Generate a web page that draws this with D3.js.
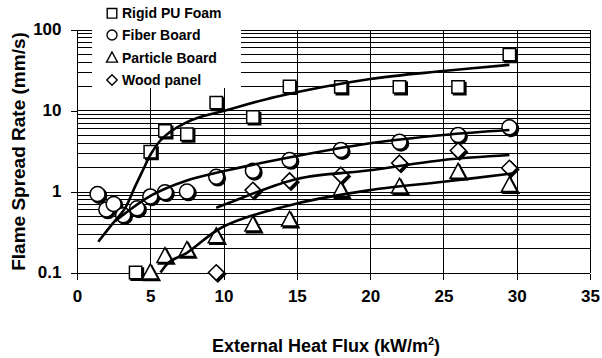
<!DOCTYPE html>
<html>
<head>
<meta charset="utf-8">
<script src="https://cdn.jsdelivr.net/npm/d3@7"></script>
<style>
  html, body { margin: 0; padding: 0; background: #fff; }
  text { font-family: "Liberation Sans", Arial, Helvetica, sans-serif; font-weight: bold; fill: #000; }
</style>
</head>
<body>
<svg id="chart" width="602" height="358"></svg>
<script>
// ---- data: [heat flux kW/m2, flame spread rate mm/s] ----
const seriesNames = ["Rigid PU Foam", "Fiber Board", "Particle Board", "Wood panel"];

const puFoamPoints = [[4, 0.1], [5, 3.1], [6, 5.6], [7.5, 5.1], [9.5, 12.5], [12, 8.3],
  [14.5, 19.8], [18, 19.6], [22, 19.6], [26, 19.5], [29.5, 49]];
const fiberBoardPoints = [[1.4, 0.93], [2, 0.6], [2.5, 0.7], [3.15, 0.51], [4.1, 0.62], [5, 0.87],
  [6, 0.98], [7.5, 1.0], [9.5, 1.52], [12, 1.8], [14.5, 2.45], [18, 3.25], [22, 4.1], [26, 4.98], [29.5, 6.2]];
const particleBoardPoints = [[5, 0.1], [6, 0.16], [7.5, 0.19], [9.5, 0.28], [12, 0.39], [14.5, 0.45],
  [18, 1.04], [22, 1.15], [26, 1.75], [29.5, 1.2]];
const woodPanelPoints = [[9.5, 0.1], [12, 1.04], [14.5, 1.36], [18, 1.6], [22, 2.25], [26, 3.2], [29.5, 1.95]];

// fitted trend curves
const puFoamTrend = [[1.45, 0.24], [2.37, 0.39], [3.27, 0.62], [3.96, 1.15], [4.5, 1.84], [5, 2.82],
  [5.66, 4.2], [6.34, 5.43], [7.37, 7.0], [8.4, 8.3], [10, 9.86], [13.6, 14.8], [20, 24.5], [25, 30.7], [29.5, 36.6]];
const fiberBoardTrend = [[2.6, 0.43], [5.1, 0.9], [7.4, 1.35], [9.8, 1.75], [13.85, 2.5], [20, 3.94],
  [25, 4.99], [29.5, 5.74]];
const particleBoardTrend = [[5.7, 0.1], [6.3, 0.135], [7.5, 0.175], [10, 0.37], [15, 0.71], [20, 1.04],
  [25, 1.32], [29.8, 1.68]];
const woodPanelTrend = [[9.5, 0.63], [10.44, 0.73], [15, 1.43], [20, 1.83], [25, 2.45], [29.5, 2.82]];

const xTicks = [0, 5, 10, 15, 20, 25, 30, 35];
const yTicks = [0.1, 1, 10, 100];
const yTickLabels = ["0.1", "1", "10", "100"];

// ---- layout ----
const svg = d3.select("#chart");
const x = d3.scaleLinear().domain([0, 35]).range([77, 590]);
const y = d3.scaleLog().domain([0.1, 100]).range([272.5, 29.5]);

// gridlines
const grid = svg.append("g").attr("shape-rendering", "crispEdges").attr("stroke", "#000").attr("stroke-width", 1);
const minorY = [];
[0.1, 1, 10].forEach(d => { for (let k = 1; k <= 10; k++) minorY.push(d * k); });
grid.selectAll("line.h").data(Array.from(new Set(minorY.map(v => +v.toPrecision(3))))).join("line")
  .attr("class", "h")
  .attr("x1", x(0)).attr("x2", x(35))
  .attr("y1", d => Math.round(y(d)) + 0.5).attr("y2", d => Math.round(y(d)) + 0.5);
grid.selectAll("line.v").data(xTicks.slice(1)).join("line")
  .attr("class", "v")
  .attr("y1", y(100)).attr("y2", y(0.1))
  .attr("x1", d => Math.round(x(d)) + 0.5).attr("x2", d => Math.round(x(d)) + 0.5);

// axes
const xAxis = d3.axisBottom(x).tickValues(xTicks).tickSize(6).tickPadding(10).tickFormat(d3.format("d"));
const yAxis = d3.axisLeft(y).tickValues(yTicks).tickSize(7).tickPadding(9)
  .tickFormat((d, i) => yTickLabels[i]);
const gx = svg.append("g").attr("transform", `translate(0,${Math.round(y(0.1)) + 0.5})`).call(xAxis);
const gy = svg.append("g").attr("transform", `translate(${Math.round(x(0)) + 0.5},0)`).call(yAxis);
[gx, gy].forEach(g => {
  g.select(".domain").attr("stroke", "#000").attr("shape-rendering", "crispEdges");
  g.selectAll(".tick line").attr("stroke", "#000").attr("shape-rendering", "crispEdges");
  g.selectAll(".tick text").attr("font-size", 17).attr("font-family", null).attr("fill", "#000");
});
gx.select(".domain").attr("d", `M${x(0)},0H${x(35)}`);
gy.select(".domain").attr("d", `M0,${y(0.1)}V${y(100)}`);

// legend box (white, drawn over the grid)
svg.append("rect").attr("x", 92).attr("y", 0).attr("width", 149).attr("height", 88).attr("fill", "#fff");

// ---- markers ----
function markerPath(shape, s) {
  switch (shape) {
    case "square": return `M${-s},${-s}H${s}V${s}H${-s}Z`;
    case "circle": return `M${s},0A${s},${s} 0 1,1 ${-s},0A${s},${s} 0 1,1 ${s},0Z`;
    case "triangle": return `M0,${-s * 1.1}L${s * 1.05},${s * 0.85}H${-s * 1.05}Z`;
    case "diamond": return `M0,${-s}L${s},0L0,${s}L${-s},0Z`;
  }
}
const series = [
  { name: seriesNames[0], shape: "square", size: 6.2, pts: puFoamPoints, trend: puFoamTrend },
  { name: seriesNames[1], shape: "circle", size: 7.5, pts: fiberBoardPoints, trend: fiberBoardTrend },
  { name: seriesNames[2], shape: "triangle", size: 7.6, pts: particleBoardPoints, trend: particleBoardTrend },
  { name: seriesNames[3], shape: "diamond", size: 7.8, pts: woodPanelPoints, trend: woodPanelTrend }
];

const marks = svg.append("g");
series.forEach(s => {
  const g = marks.append("g");
  // drop shadow
  g.selectAll("path.shadow").data(s.pts).join("path")
    .attr("class", "shadow")
    .attr("d", markerPath(s.shape, s.size))
    .attr("transform", d => `translate(${x(d[0]) + 1.6},${y(d[1]) + 1.6})`)
    .attr("fill", "#000").attr("stroke", "#000").attr("stroke-width", 1.5);
  g.selectAll("path.mk").data(s.pts).join("path")
    .attr("class", "mk")
    .attr("d", markerPath(s.shape, s.size))
    .attr("transform", d => `translate(${x(d[0])},${y(d[1])})`)
    .attr("fill", "#fff").attr("stroke", "#000").attr("stroke-width", 1.5);
});

// trend curves on top
const line = d3.line().x(d => x(d[0])).y(d => y(d[1])).curve(d3.curveCatmullRom.alpha(0.5));
series.forEach(s => {
  svg.append("path").datum(s.trend).attr("d", line)
    .attr("fill", "none").attr("stroke", "#000").attr("stroke-width", 2.6);
});

// ---- legend ----
const legendRows = [13.3, 35, 57.7, 80];
const lg = svg.append("g");
series.forEach((s, i) => {
  lg.append("path").attr("d", markerPath(s.shape, s.shape === "circle" ? 5 : (s.shape === "square" ? 4.8 : 5.2)))
    .attr("transform", `translate(112,${legendRows[i]})`)
    .attr("fill", "#fff").attr("stroke", "#000").attr("stroke-width", 1.4);
  lg.append("text").attr("x", 122).attr("y", legendRows[i]).attr("dy", "0.36em")
    .attr("font-size", 14).text(s.name);
});

// ---- axis titles ----
const xt = svg.append("text").attr("x", 326).attr("y", 351.5).attr("text-anchor", "middle")
  .attr("font-size", 18);
xt.append("tspan").text("External Heat Flux (kW/m");
xt.append("tspan").attr("font-size", 11).attr("dy", -7).text("2");
xt.append("tspan").attr("dy", 7).text(")");

svg.append("text").attr("transform", "translate(25,151.5) rotate(-90)").attr("text-anchor", "middle")
  .attr("font-size", 19).text("Flame Spread Rate (mm/s)");
</script>
</body>
</html>
